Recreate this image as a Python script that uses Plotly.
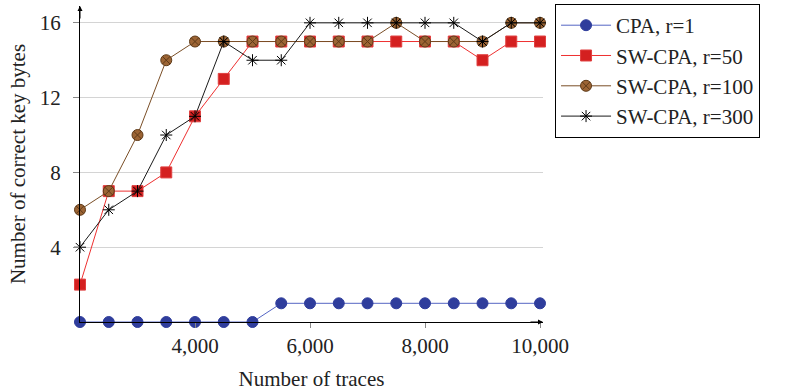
import plotly.graph_objects as go

traces = [2000, 2500, 3000, 3500, 4000, 4500, 5000, 5500, 6000, 6500,
          7000, 7500, 8000, 8500, 9000, 9500, 10000]
cpa_r1 = [0, 0, 0, 0, 0, 0, 0, 1, 1, 1, 1, 1, 1, 1, 1, 1, 1]
sw_r50 = [2, 7, 7, 8, 11, 13, 15, 15, 15, 15, 15, 15, 15, 15, 14, 15, 15]
sw_r100 = [6, 7, 10, 14, 15, 15, 15, 15, 15, 15, 15, 16, 15, 15, 15, 16, 16]
sw_r300 = [4, 6, 7, 10, 11, 15, 14, 14, 16, 16, 16, 16, 16, 16, 15, 16, 16]

y_ticks = [4, 8, 12, 16]
x_ticks = [4000, 6000, 8000, 10000]
x_ticklabels = ["4,000", "6,000", "8,000", "10,000"]

FONT = "Liberation Serif"

fig = go.Figure()
fig.add_trace(go.Scatter(
    x=traces, y=cpa_r1, name="CPA, r=1", mode="lines+markers", cliponaxis=False,
    line=dict(color="#5566c4", width=1),
    marker=dict(symbol="circle", size=11, color="#2f3d9c",
                line=dict(color="#2f3d9c", width=1))))
fig.add_trace(go.Scatter(
    x=traces, y=sw_r50, name="SW-CPA, r=50", mode="lines+markers", cliponaxis=False,
    line=dict(color="#ee3030", width=1),
    marker=dict(symbol="square", size=11, color="#d42020",
                line=dict(color="#e04040", width=1))))
fig.add_trace(go.Scatter(
    x=traces, y=sw_r100, name="SW-CPA, r=100", mode="lines+markers", cliponaxis=False,
    line=dict(color="#7a4e26", width=1),
    marker=dict(symbol="circle-x", size=11, color="#9c6434",
                line=dict(color="#5e3a18", width=1))))
fig.add_trace(go.Scatter(
    x=traces, y=sw_r300, name="SW-CPA, r=300", mode="lines+markers", cliponaxis=False,
    line=dict(color="#1a1a1a", width=1),
    marker=dict(symbol="asterisk-open", size=10, color="#000000",
                line=dict(color="#000000", width=1))))

fig.update_layout(
    width=787, height=392,
    margin=dict(l=80, r=244, t=5, b=70),
    paper_bgcolor="white", plot_bgcolor="white",
    font=dict(family=FONT, size=21, color="#222222"),
    showlegend=True,
    legend=dict(x=1.026, y=1.003, xanchor="left", yanchor="top",
                bordercolor="#000000", borderwidth=1, bgcolor="white",
                font=dict(family=FONT, size=21, color="#222222"),
                tracegroupgap=0, itemwidth=50),
    xaxis=dict(range=[2000, 10052], tickvals=x_ticks, ticktext=x_ticklabels,
               showgrid=False, zeroline=False, showline=True,
               linecolor="#000000", linewidth=1,
               ticks="outside", ticklen=5, tickcolor="#888888",
               tickfont=dict(family=FONT, size=21),
               title=dict(text="Number of traces", standoff=14,
                          font=dict(family=FONT, size=21))),
    yaxis=dict(range=[0, 16.9], tickvals=y_ticks,
               showgrid=True, gridcolor="#d4d4d4", gridwidth=1,
               zeroline=False, showline=True,
               linecolor="#000000", linewidth=1,
               ticks="outside", ticklen=6, tickcolor="#888888",
               ticklabelstandoff=8,
               tickfont=dict(family=FONT, size=21),
               title=dict(text="Number of correct key bytes", standoff=8,
                          font=dict(family=FONT, size=21))),
)

# axis arrowheads
fig.add_annotation(xref="paper", yref="paper", x=1.0, y=0, ax=-14, ay=0,
                   text="", showarrow=True, arrowhead=2, arrowsize=1,
                   arrowwidth=1, arrowcolor="#000000")
fig.add_annotation(xref="paper", yref="paper", x=0, y=1.0, ax=0, ay=14,
                   text="", showarrow=True, arrowhead=2, arrowsize=1,
                   arrowwidth=1, arrowcolor="#000000")

fig.write_html("out.html")
